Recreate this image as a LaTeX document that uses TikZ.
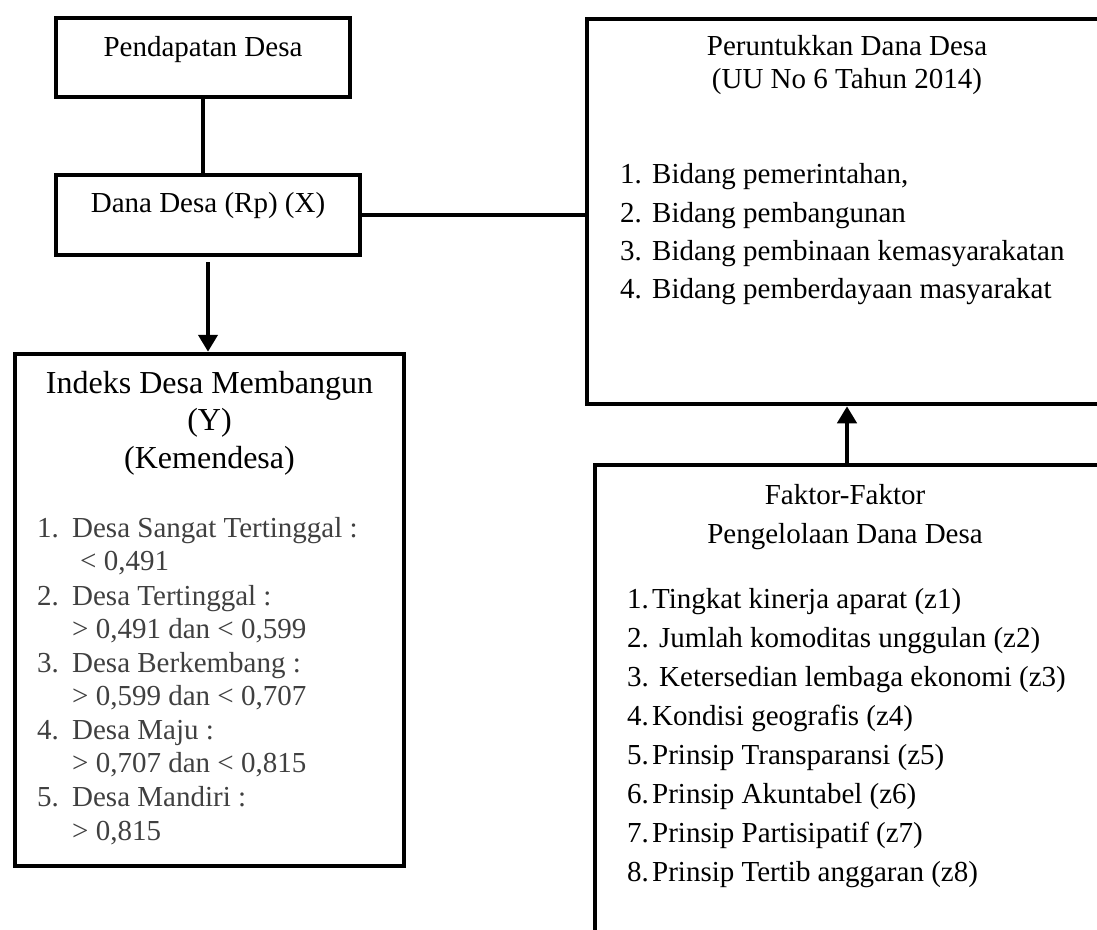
\documentclass[tikz,border=0pt]{standalone}
\usepackage{fontspec}
\setmainfont{Liberation Serif}
\usetikzlibrary{arrows.meta}
\definecolor{idxgray}{gray}{0.25}

\begin{document}
\begin{tikzpicture}[x=1pt,y=-1pt,
		box/.style={draw, line width=4.5pt, inner sep=0pt},
		txt/.style={inner sep=0pt, font=\fontsize{29}{34}\selectfont},
		big/.style={inner sep=0pt, font=\fontsize{32}{38}\selectfont},
		arr/.style={line width=4.5pt, -{Triangle[length=17pt,width=19pt]}}]
			\useasboundingbox (0,0) rectangle (1097,929);
			\clip (0,0) rectangle (1097,929); % right boxes run off the page
			\node[box, minimum width=294pt, minimum height=79pt] (pend) at (203,57.5) {};
			\node[box, minimum width=304pt, minimum height=80pt] (dana) at (208,215) {};
			\node[box, minimum width=389pt, minimum height=512pt] (idx) at (209.5,610) {};
			\node[box, minimum width=520pt, minimum height=385pt] (peru) at (847,211.5) {};
			\node[box, minimum width=504pt, minimum height=495pt] (fak) at (847,712.5) {};
			\node[txt, anchor=base] (tpend) at (203,56) {Pendapatan Desa};
			\node[txt, anchor=base] (tdana) at (208,212) {Dana Desa (Rp) (X)};
			\node[big, anchor=base] (tidx1) at (209.5,393) {Indeks Desa Membangun};
			\node[big, anchor=base] (tidx2) at (209.5,430) {(Y)};
			\node[big, anchor=base] (tidx3) at (209.5,468) {(Kemendesa)};
			\node[txt, text=idxgray, anchor=base west] (i1) at (37,537) {\makebox[35pt][l]{1.}Desa Sangat Tertinggal :};
			\node[txt, text=idxgray, anchor=base west] (i2) at (80,570) {< 0,491};
			\node[txt, text=idxgray, anchor=base west] (i3) at (37,605) {\makebox[35pt][l]{2.}Desa Tertinggal :};
			\node[txt, text=idxgray, anchor=base west] (i4) at (72,638) {> 0,491 dan < 0,599};
			\node[txt, text=idxgray, anchor=base west] (i5) at (37,672) {\makebox[35pt][l]{3.}Desa Berkembang :};
			\node[txt, text=idxgray, anchor=base west] (i6) at (72,705) {> 0,599 dan < 0,707};
			\node[txt, text=idxgray, anchor=base west] (i7) at (37,739) {\makebox[35pt][l]{4.}Desa Maju :};
			\node[txt, text=idxgray, anchor=base west] (i8) at (72,772) {> 0,707 dan < 0,815};
			\node[txt, text=idxgray, anchor=base west] (i9) at (37,806) {\makebox[35pt][l]{5.}Desa Mandiri :};
			\node[txt, text=idxgray, anchor=base west] (i10) at (72,840) {> 0,815};
			\node[txt, anchor=base] (tperu1) at (847,55) {Peruntukkan Dana Desa};
			\node[txt, anchor=base] (tperu2) at (847,88) {(UU No 6 Tahun 2014)};
			\node[txt, anchor=base west] (p1) at (620,183) {\makebox[32pt][l]{1.}Bidang pemerintahan,};
			\node[txt, anchor=base west] (p2) at (620,222) {\makebox[32pt][l]{2.}Bidang pembangunan};
			\node[txt, anchor=base west] (p3) at (620,260) {\makebox[32pt][l]{3.}Bidang pembinaan kemasyarakatan};
			\node[txt, anchor=base west] (p4) at (620,298) {\makebox[32pt][l]{4.}Bidang pemberdayaan masyarakat};
			\node[txt, anchor=base] (tfak1) at (845,504) {Faktor-Faktor};
			\node[txt, anchor=base] (tfak2) at (845,543) {Pengelolaan Dana Desa};
			\node[txt, anchor=base west] (f1) at (627,608) {\makebox[25pt][l]{1.}Tingkat kinerja aparat (z1)};
			\node[txt, anchor=base west] (f2) at (627,647) {\makebox[32pt][l]{2.}Jumlah komoditas unggulan (z2)};
			\node[txt, anchor=base west] (f3) at (627,686) {\makebox[32pt][l]{3.}Ketersedian lembaga ekonomi (z3)};
			\node[txt, anchor=base west] (f4) at (627,725) {\makebox[25pt][l]{4.}Kondisi geografis (z4)};
			\node[txt, anchor=base west] (f5) at (627,764) {\makebox[25pt][l]{5.}Prinsip Transparansi (z5)};
			\node[txt, anchor=base west] (f6) at (627,803) {\makebox[25pt][l]{6.}Prinsip Akuntabel (z6)};
			\node[txt, anchor=base west] (f7) at (627,842) {\makebox[25pt][l]{7.}Prinsip Partisipatif (z7)};
			\node[txt, anchor=base west] (f8) at (627,881) {\makebox[25pt][l]{8.}Prinsip Tertib anggaran (z8)};
			\draw[line width=4.5pt] (pend.south) -- (pend.south |- dana.north);
			\draw[line width=4.5pt] (dana.east) -- (dana.east -| peru.west);
			\coordinate (down) at ([yshift=-5pt]dana.south);
			\draw[arr] (down) -- (down |- idx.north);
			\draw[arr] (fak.north) -- (peru.south);
		\end{tikzpicture}
\end{document}
